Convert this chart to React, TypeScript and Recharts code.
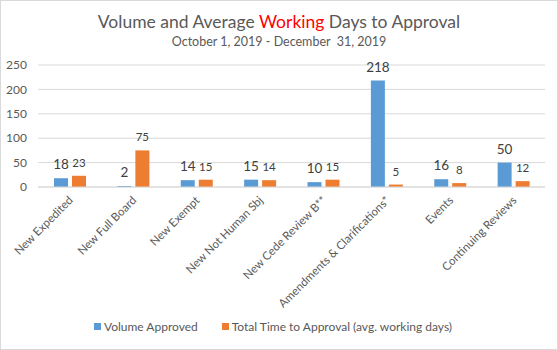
import React from 'react'
import { BarChart, Bar, XAxis, YAxis, CartesianGrid, Legend, LabelList } from 'recharts'

const categories = [
    'New Expedited',
    'New Full Board',
    'New Exempt',
    'New Not Human Sbj',
    'New Cede Review B**',
    'Amendments & Clarifications*',
    'Events',
    'Continuing Reviews',
]
const volumeApproved = [18, 2, 14, 15, 10, 218, 16, 50]
const timeToApproval = [23, 75, 15, 14, 15, 5, 8, 12]
const yTicks = [0, 50, 100, 150, 200, 250]

const BLUE = '#5B9BD5'
const ORANGE = '#ED7D31'
const TEXT = '#595959'
const FONT = 'Lato, "Open Sans", sans-serif'

const data = categories.map((name, i) => ({
    name,
    volume: volumeApproved[i],
    time: timeToApproval[i],
}))

function SlantTick(props: any) {
    const { x, y, payload } = props
    return (
        <text
            x={x + 4}
            y={y + 6}
            transform={`rotate(-45, ${x + 4}, ${y + 6})`}
            textAnchor="end"
            fill={TEXT}
            fontSize={11.5}
            fontFamily={FONT}
        >
            {payload.value}
        </text>
    )
}

function LegendBox() {
    const items = [
        { label: 'Volume Approved', color: BLUE },
        { label: 'Total Time to Approval (avg. working days)', color: ORANGE },
    ]
    return (
        <div style={{ display: 'flex', justifyContent: 'center', gap: 24, fontFamily: FONT, fontSize: 12, color: TEXT }}>
            {items.map((it) => (
                <div key={it.label} style={{ display: 'flex', alignItems: 'center' }}>
                    <span style={{ width: 7, height: 7, background: it.color, marginRight: 3, display: 'inline-block' }} />
                    {it.label}
                </div>
            ))}
        </div>
    )
}

export default function App() {
    return (
        <div
            style={{
                position: 'absolute',
                left: 0,
                top: 0,
                width: 558,
                height: 350,
                boxSizing: 'border-box',
                border: '1px solid #D9D9D9',
                background: '#fff',
                fontFamily: FONT,
            }}
        >
            <div style={{ position: 'absolute', top: 10, width: '100%', textAlign: 'center', fontSize: 17.5, color: TEXT }}>
                Volume and Average <span style={{ color: '#FF0000' }}>Working</span> Days to Approval
            </div>
            <div style={{ position: 'absolute', top: 33, width: '100%', textAlign: 'center', fontSize: 12.5, color: TEXT }}>
                October 1, 2019 - December&nbsp; 31, 2019
            </div>
            <BarChart
                width={556}
                height={348}
                data={data}
                margin={{ top: 64, right: 12, bottom: 10, left: 0 }}
                barSize={14}
                barGap={4}
            >
                <CartesianGrid vertical={false} stroke="#D9D9D9" />
                <XAxis
                    dataKey="name"
                    interval={0}
                    height={132}
                    tick={<SlantTick />}
                    tickLine={false}
                    axisLine={{ stroke: '#D9D9D9' }}
                />
                <YAxis
                    domain={[0, 250]}
                    ticks={yTicks}
                    width={37}
                    tickLine={false}
                    axisLine={false}
                    tickMargin={5}
                    tick={{ fill: TEXT, fontSize: 12, fontFamily: FONT }}
                />
                <Legend verticalAlign="bottom" height={20} content={<LegendBox />} />
                <Bar dataKey="volume" fill={BLUE} isAnimationActive={false}>
                    <LabelList dataKey="volume" position="top" offset={9} fill="#404040" fontSize={13.5} fontFamily={FONT} />
                </Bar>
                <Bar dataKey="time" fill={ORANGE} isAnimationActive={false}>
                    <LabelList dataKey="time" position="top" offset={9} fill="#404040" fontSize={11.5} fontFamily={FONT} />
                </Bar>
            </BarChart>
        </div>
    )
}
